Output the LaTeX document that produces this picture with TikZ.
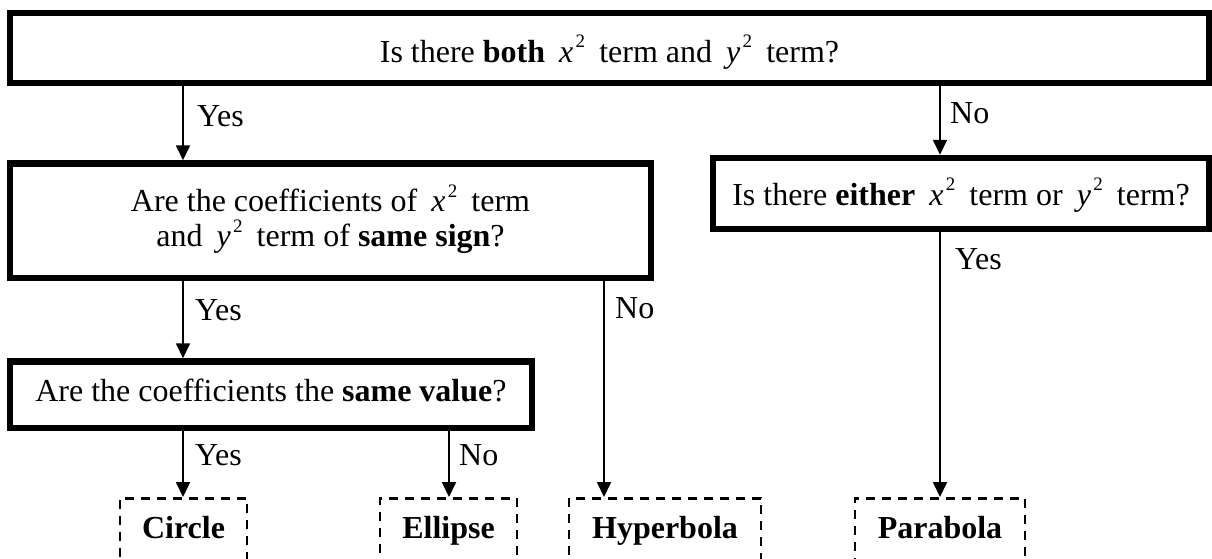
\documentclass[tikz,border=0pt]{standalone}
\usepackage{fontspec}
\setmainfont{Liberation Serif}
\usetikzlibrary{arrows.meta}
\newcommand{\sqv}[1]{\hspace{0.44em}\textit{#1}\raisebox{0.44em}{\fontsize{19}{19}\selectfont\hspace{0.12em}2}\hspace{0.44em}}
\begin{document}
\begin{tikzpicture}[x=1pt,y=-1pt,
  font=\fontsize{32}{35}\selectfont,
  qbox/.style={draw, line width=6.5pt, inner sep=0pt, align=center, text depth=0pt},
  ans/.style={draw, dash pattern=on 9pt off 7pt, line width=2.6pt, inner sep=0pt,
     text height=40pt, text depth=40pt, anchor=north, font=\fontsize{32}{35}\selectfont\bfseries},
  arr/.style={line width=1.8pt, -{Triangle[length=15pt,width=14pt]}},
  lbl/.style={anchor=base west, inner sep=0pt}]
\useasboundingbox (0,0) rectangle (1212,558);
\clip (0,0) rectangle (1212,558);

% question boxes
\node[qbox, minimum width=1199pt, minimum height=70pt, text height=28pt] (top) at (609.5,48)
  {Is there \textbf{both}\sqv{x}term and\sqv{y}term?};
\node[qbox, minimum width=641pt, minimum height=114.5pt, text height=52pt] (same) at (330.5,220.75)
  {Are the coefficients of\sqv{x}term\\ and\sqv{y}term of \textbf{same sign}?};
\node[qbox, minimum width=496pt, minimum height=71pt, text height=23pt] (either) at (961,193.5)
  {Is there \textbf{either}\sqv{x}term or\sqv{y}term?};
\node[qbox, minimum width=522pt, minimum height=66.5pt, text height=14pt] (value) at (271,394.75)
  {Are the coefficients the \textbf{same value}?};

% answers
\node[ans, minimum width=127pt] (circle) at (183.5,497) {Circle};
\node[ans, minimum width=137pt] (ellipse) at (448.5,497) {Ellipse};
\node[ans, minimum width=192pt] (hyper) at (665,497) {Hyperbola};
\node[ans, minimum width=170pt] (para) at (940,497) {Parabola};

% connector columns
\coordinate (cA) at (183,0);
\coordinate (cB) at (940,0);
\coordinate (cC) at (604,0);
\coordinate (cD) at (449,0);

\draw[arr] (top.south -| cA) -- (same.north -| cA);
\draw[arr] (top.south -| cB) -- (either.north -| cB);
\draw[arr] (same.south -| cA) -- (value.north -| cA);
\draw[arr] (same.south -| cC) -- (hyper.north -| cC);
\draw[arr] (either.south -| cB) -- (para.north -| cB);
\draw[arr] (value.south -| cA) -- (circle.north -| cA);
\draw[arr] (value.south -| cD) -- (ellipse.north -| cD);

% labels
\node[lbl] (l1) at (197,126) {Yes};
\node[lbl] (l2) at (950,123) {No};
\node[lbl] (l3) at (195,320) {Yes};
\node[lbl] (l4) at (615,318) {No};
\node[lbl] (l5) at (955,269) {Yes};
\node[lbl] (l6) at (195,465) {Yes};
\node[lbl] (l7) at (459,465) {No};
\end{tikzpicture}
\end{document}
